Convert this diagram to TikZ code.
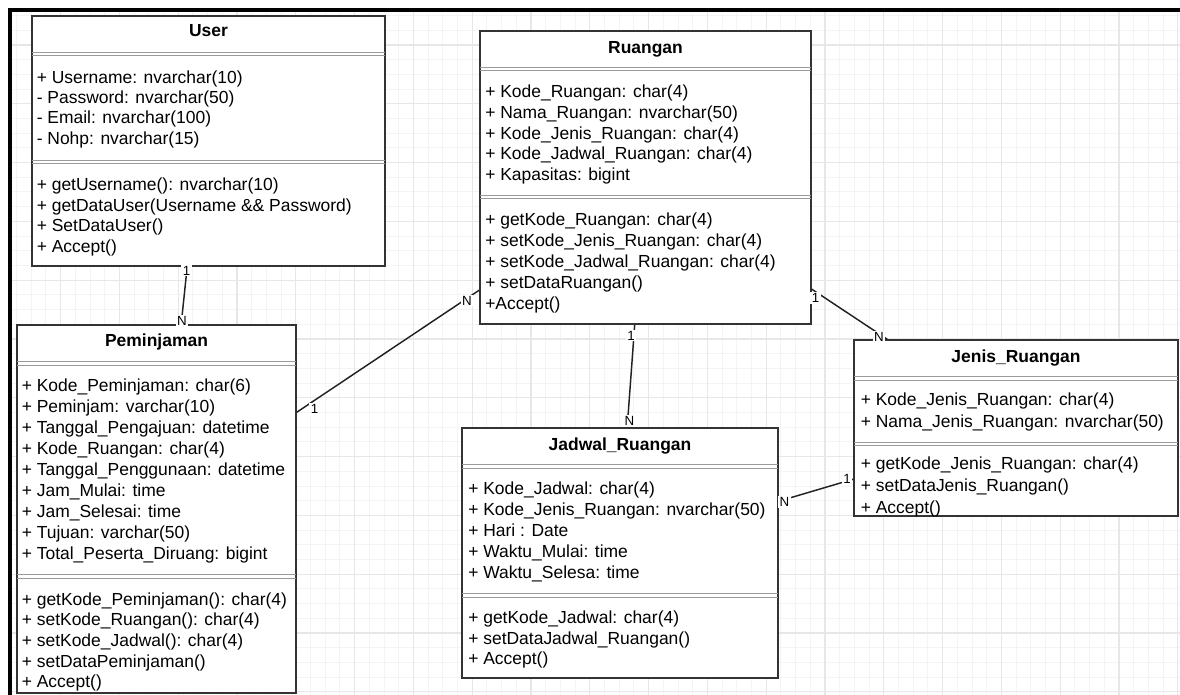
\documentclass[tikz,border=0pt]{standalone}
\usepackage{fontspec}
\setmainfont{Liberation Sans}
\usetikzlibrary{calc,fit}

\definecolor{gridmajor}{HTML}{E7E7E7}
\definecolor{gridminor}{HTML}{F4F4F4}
\definecolor{boxline}{HTML}{333333}
\definecolor{sepline}{HTML}{9A9A9A}
\definecolor{linkline}{HTML}{222222}

\tikzset{
  classbox/.style={draw=boxline, line width=1.2pt, fill=white, inner sep=0pt},
  member/.style={anchor=base west, inner sep=0pt, font=\fontsize{13.1pt}{15pt}\selectfont},
  classtitle/.style={anchor=base, inner sep=0pt, font=\bfseries\fontsize{13.1pt}{15pt}\selectfont},
  sep/.style={draw=sepline, line width=0.7pt},
  link/.style={draw=linkline, line width=1.1pt},
  mult/.style={fill=white, inner sep=1pt, font=\fontsize{10pt}{11pt}\selectfont},
}

\begin{document}
\begin{tikzpicture}[x=0.75pt, y=-0.75pt]
\useasboundingbox (0,0) rectangle (1180,695);

% background grid
\begin{scope}
  \clip (11.7,11.7) rectangle (1180,695);
  \foreach \k in {0,...,81}
    \draw[gridminor, line width=0.75pt] ({1.8+14.7*\k},0) -- ({1.8+14.7*\k},695);
  \foreach \k in {0,...,49}
    \draw[gridminor, line width=0.75pt] (0,{-13.8+14.7*\k}) -- (1180,{-13.8+14.7*\k});
  \foreach \k in {0,...,20}
    \draw[gridmajor, line width=1pt] ({1.8+58.8*\k},0) -- ({1.8+58.8*\k},695);
  \foreach \k in {0,...,12}
    \draw[gridmajor, line width=1pt] (0,{-13.8+58.8*\k}) -- (1180,{-13.8+58.8*\k});
\end{scope}

% frame
\draw[line width=2.55pt] (8.3,10) -- (1180,10);
\draw[line width=2.55pt] (10,8.3) -- (10,695);

% ---------- User ----------
\node[classbox, fit={(32,16) (385,266)}] (user) {};
\node[classtitle] (user-title) at (208.5,36.7) {User};
\draw[sep] (32,52.3) -- (385,52.3) (32,55.7) -- (385,55.7);
\draw[sep] (32,160) -- (385,160) (32,163.3) -- (385,163.3);
\foreach \t [count=\i from 0] in {
  {+ Username: nvarchar(10)},
  {- Password: nvarchar(50)},
  {- Email: nvarchar(100)},
  {- Nohp: nvarchar(15)}}
  \node[member] (user-a\i) at (36.5,{83.2+20.3*\i}) {\t};
\foreach \t [count=\i from 0] in {
  {+ getUsername(): nvarchar(10)},
  {+ getDataUser(Username \&\& Password)},
  {+ SetDataUser()},
  {+ Accept()}}
  \node[member] (user-m\i) at (36.5,{190.8+20.6*\i}) {\t};

% ---------- Peminjaman ----------
\node[classbox, fit={(17,325) (296,693)}] (pem) {};
\node[classtitle] (pem-title) at (156.5,346.5) {Peminjaman};
\draw[sep] (17,361) -- (296,361) (17,365) -- (296,365);
\draw[sep] (17,574) -- (296,574) (17,578) -- (296,578);
\foreach \t [count=\i from 0] in {
  {+ Kode\_Peminjaman: char(6)},
  {+ Peminjam: varchar(10)},
  {+ Tanggal\_Pengajuan: datetime},
  {+ Kode\_Ruangan: char(4)},
  {+ Tanggal\_Penggunaan: datetime},
  {+ Jam\_Mulai: time},
  {+ Jam\_Selesai: time},
  {+ Tujuan: varchar(50)},
  {+ Total\_Peserta\_Diruang: bigint}}
  \node[member] (pem-a\i) at (21.5,{391.8+21*\i}) {\t};
\foreach \t [count=\i from 0] in {
  {+ getKode\_Peminjaman(): char(4)},
  {+ setKode\_Ruangan(): char(4)},
  {+ setKode\_Jadwal(): char(4)},
  {+ setDataPeminjaman()},
  {+ Accept()}}
  \node[member] (pem-m\i) at (21.5,{605.2+20.6*\i}) {\t};

% ---------- Ruangan ----------
\node[classbox, fit={(480,31) (811,324)}] (ruang) {};
\node[classtitle] (ruang-title) at (645.5,53.2) {Ruangan};
\draw[sep] (480,67) -- (811,67) (480,70.3) -- (811,70.3);
\draw[sep] (480,195) -- (811,195) (480,198.3) -- (811,198.3);
\foreach \t [count=\i from 0] in {
  {+ Kode\_Ruangan: char(4)},
  {+ Nama\_Ruangan: nvarchar(50)},
  {+ Kode\_Jenis\_Ruangan: char(4)},
  {+ Kode\_Jadwal\_Ruangan: char(4)},
  {+ Kapasitas: bigint}}
  \node[member] (ruang-a\i) at (485,{97.5+20.8*\i}) {\t};
\foreach \t [count=\i from 0] in {
  {+ getKode\_Ruangan: char(4)},
  {+ setKode\_Jenis\_Ruangan: char(4)},
  {+ setKode\_Jadwal\_Ruangan: char(4)},
  {+ setDataRuangan()},
  {+Accept()}}
  \node[member] (ruang-m\i) at (485,{225.8+20.85*\i}) {\t};

% ---------- Jadwal_Ruangan ----------
\node[classbox, fit={(462,428) (778,678)}] (jadwal) {};
\node[classtitle] (jadwal-title) at (620,450) {Jadwal\_Ruangan};
\draw[sep] (462,464) -- (778,464) (462,468) -- (778,468);
\draw[sep] (462,593) -- (778,593) (462,597) -- (778,597);
\foreach \t [count=\i from 0] in {
  {+ Kode\_Jadwal: char(4)},
  {+ Kode\_Jenis\_Ruangan: nvarchar(50)},
  {+ Hari : Date},
  {+ Waktu\_Mulai: time},
  {+ Waktu\_Selesa: time}}
  \node[member] (jadwal-a\i) at (468,{494.2+21*\i}) {\t};
\foreach \t [count=\i from 0] in {
  {+ getKode\_Jadwal: char(4)},
  {+ setDataJadwal\_Ruangan()},
  {+ Accept()}}
  \node[member] (jadwal-m\i) at (468,{623.5+20.7*\i}) {\t};

% ---------- Jenis_Ruangan ----------
\node[classbox, fit={(854,340) (1178,516)}] (jenis) {};
\node[classtitle] (jenis-title) at (1016,362.5) {Jenis\_Ruangan};
\draw[sep] (854,376) -- (1178,376) (854,380) -- (1178,380);
\draw[sep] (854,442) -- (1178,442) (854,445.5) -- (1178,445.5);
\foreach \t [count=\i from 0] in {
  {+ Kode\_Jenis\_Ruangan: char(4)},
  {+ Nama\_Jenis\_Ruangan: nvarchar(50)}}
  \node[member] (jenis-a\i) at (860.5,{405.8+21.7*\i}) {\t};
\foreach \t [count=\i from 0] in {
  {+ getKode\_Jenis\_Ruangan: char(4)},
  {+ setDataJenis\_Ruangan()},
  {+ Accept()}}
  \node[member] (jenis-m\i) at (860.5,{469.8+21.7*\i}) {\t};

% ---------- associations ----------
\draw[link] ($(user.south west)+(156,0)$) -- ($(pem.north west)+(165,0)$);
\draw[link] ($(pem.north east)+(0,88)$) -- ($(ruang.north west)+(0,260)$);
\draw[link] ($(ruang.south west)+(155.5,0)$) -- ($(jadwal.north west)+(166,0)$);
\draw[link] ($(ruang.north east)+(0,259)$) -- ($(jenis.north west)+(34,0)$);
\draw[link] ($(jadwal.north east)+(0,74)$) -- ($(jenis.north west)+(0,140)$);

% multiplicities
\node[mult] (m-user) at (186.5,270.5) {1};
\node[mult] (m-pem-user) at (182,321) {N};
\node[mult] (m-pem-ruang) at (314.5,409) {1};
\node[mult] (m-ruang-pem) at (467,300.5) {N};
\node[mult] (m-ruang-jadwal) at (631,335.5) {1};
\node[mult] (m-jadwal-ruang) at (629.5,421) {N};
\node[mult] (m-ruang-jenis) at (815.5,298.3) {1};
\node[mult] (m-jenis-ruang) at (879,336.7) {N};
\node[mult] (m-jadwal-jenis) at (784.5,502.3) {N};
\node[mult] (m-jenis-jadwal) at (847,478.7) {1};
\end{tikzpicture}
\end{document}
